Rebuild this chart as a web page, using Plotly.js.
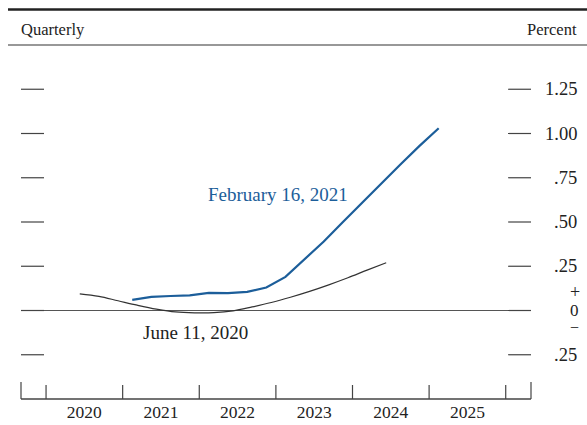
<!DOCTYPE html>
<html>
<head>
<meta charset="utf-8">
<script src="https://cdn.plot.ly/plotly-3.0.1.min.js"></script>
<style>html,body{margin:0;padding:0;background:#fff;}#chart{width:587px;height:425px;}</style>
</head>
<body>
<div id="chart"></div>
<script>
// Quarterly series (x = decimal year position of each quarter)
const febX = [2021.125,2021.375,2021.625,2021.875,2022.125,2022.375,2022.625,2022.875,2023.125,2023.375,2023.625,2023.875,2024.125,2024.375,2024.625,2024.875,2025.125];
const febY = [0.060,0.077,0.082,0.086,0.100,0.098,0.105,0.130,0.190,0.290,0.390,0.500,0.610,0.720,0.825,0.930,1.030];
const junX = [2020.44,2020.69,2020.94,2021.19,2021.44,2021.69,2021.94,2022.19,2022.44,2022.69,2022.94,2023.19,2023.44,2023.69,2023.94,2024.19,2024.44];
const junY = [0.094,0.080,0.055,0.030,0.008,-0.008,-0.013,-0.012,-0.002,0.020,0.045,0.075,0.108,0.145,0.185,0.228,0.270];
const yearLabels = ['2020','2021','2022','2023','2024','2025'];
const yearPos = [2020.5,2021.5,2022.5,2023.5,2024.5,2025.5];
const yearBounds = [2020,2021,2022,2023,2024,2025,2026];
const yTicks = [-0.25,0.25,0.5,0.75,1.0,1.25];
const yTickText = ['.25','.25','.50','.75','1.00','1.25'];

const FONT = 'Liberation Serif, Times New Roman, serif';
const INK = '#222';
const BLUE = '#1c5e9a';
const W = 510, H = 354;

const traces = [
  {x: junX, y: junY, mode: 'lines', line: {color: '#333', width: 1.2, shape: 'spline'}, hoverinfo: 'skip'},
  {x: febX, y: febY, mode: 'lines', line: {color: BLUE, width: 2.2}, hoverinfo: 'skip'}
];

const shapes = [];
// header rules
shapes.push({type:'line', xref:'paper', yref:'paper', x0:-13/W, x1:566/W, y0:(399-9.5)/H, y1:(399-9.5)/H, line:{color:'#222', width:2.6}});
shapes.push({type:'line', xref:'paper', yref:'paper', x0:-13/W, x1:566/W, y0:1, y1:1, line:{color:'#333', width:1.1}});
// bottom axis line
shapes.push({type:'line', xref:'paper', yref:'paper', x0:0, x1:1, y0:0, y1:0, line:{color:'#444', width:1.3}});
// year boundary ticks
yearBounds.forEach(b => shapes.push({type:'line', xref:'x', yref:'paper', x0:b, x1:b, y0:0, y1:14/H, line:{color:'#444', width:1.2}}));
// end ticks
[0,1].forEach(p => shapes.push({type:'line', xref:'paper', yref:'paper', x0:p, x1:p, y0:0, y1:17/H, line:{color:'#444', width:1.2}}));
// y tick dashes on both sides
yTicks.concat([0]).forEach(v => {
  shapes.push({type:'line', xref:'paper', yref:'y', x0:0, x1:23/W, y0:v, y1:v, line:{color:'#444', width:1.2}});
  shapes.push({type:'line', xref:'paper', yref:'y', x0:1-23/W, x1:1, y0:v, y1:v, line:{color:'#444', width:1.2}});
});

const annotations = [];
const tf = {family: FONT, size: 18.5, color: INK};
yTicks.forEach((v,i) => annotations.push({xref:'paper', yref:'y', x:(579-21)/W, y:v, xanchor:'right', yanchor:'middle', yshift:0, text:yTickText[i], showarrow:false, font:tf}));
// stacked "+ 0 −" label at zero
const zx = (574.5-21)/W;
annotations.push({xref:'paper', yref:'y', x:zx, y:0, xanchor:'center', yanchor:'middle', yshift:0, text:'0', showarrow:false, font:{family:FONT, size:17, color:INK}});
annotations.push({xref:'paper', yref:'y', x:zx, y:0, xanchor:'center', yanchor:'middle', yshift:18.5, text:'+', showarrow:false, font:{family:FONT, size:18, color:INK}});
annotations.push({xref:'paper', yref:'y', x:zx, y:0, xanchor:'center', yanchor:'middle', yshift:-16.5, text:'\u2212', showarrow:false, font:{family:FONT, size:16, color:INK}});
annotations.push({xref:'paper', yref:'paper', x:(19-21)/W, y:(399-30)/H, xanchor:'left', yanchor:'middle', text:'Quarterly', showarrow:false, font:{family:FONT, size:16.5, color:INK}});
annotations.push({xref:'paper', yref:'paper', x:(579-21)/W, y:(399-30)/H, xanchor:'right', yanchor:'middle', text:'Percent', showarrow:false, font:{family:FONT, size:16.5, color:INK}});
annotations.push({xref:'x', yref:'y', x:2023.03, y:0.655, xanchor:'center', yanchor:'middle', text:'February 16, 2021', showarrow:false, font:{family:FONT, size:19, color:BLUE}});
annotations.push({xref:'x', yref:'y', x:2021.945, y:-0.125, xanchor:'center', yanchor:'middle', text:'June 11, 2020', showarrow:false, font:{family:FONT, size:19, color:INK}});

const layout = {
  width: 587, height: 425,
  margin: {l:21, r:56, t:45, b:26, pad:0},
  paper_bgcolor: '#fff', plot_bgcolor: '#fff',
  showlegend: false,
  xaxis: {range:[2019.673, 2026.33], showgrid:false, zeroline:false, showline:false,
          tickmode:'array', tickvals: yearPos, ticktext: yearLabels, ticks:'',
          tickfont:{family:FONT, size:17.5, color:INK}, fixedrange:true},
  yaxis: {range:[-0.5, 1.5], showgrid:false, showticklabels:false, ticks:'',
          zeroline:true, zerolinecolor:'#555', zerolinewidth:1.1, showline:false, fixedrange:true},
  shapes: shapes,
  annotations: annotations
};

Plotly.newPlot('chart', traces, layout, {displayModeBar:false, staticPlot:true});
</script>
</body>
</html>
